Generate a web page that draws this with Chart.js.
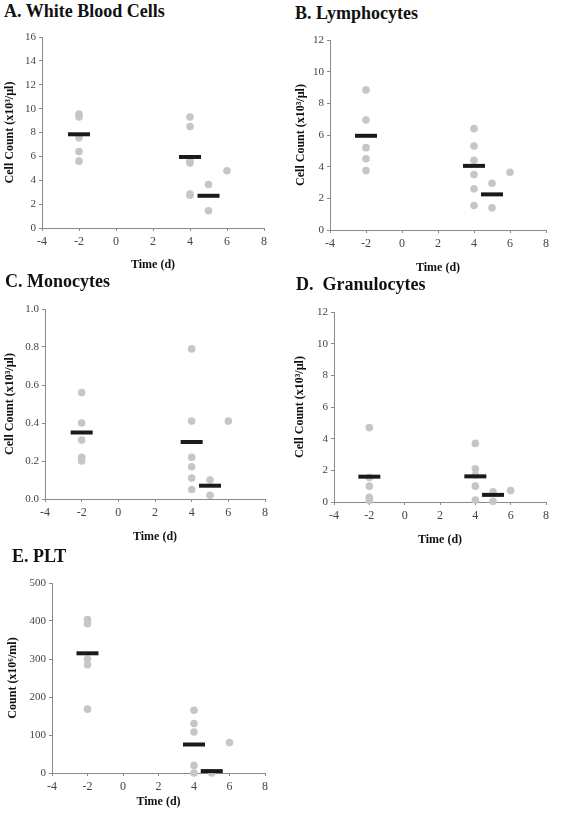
<!DOCTYPE html>
<html>
<head>
<meta charset="utf-8">
<script src="https://cdn.jsdelivr.net/npm/chart.js@4/dist/chart.umd.min.js"></script>
<style>
  html, body { margin: 0; padding: 0; background: #fff; }
  body { position: relative; width: 561px; height: 820px; overflow: hidden; }
  .title {
    position: absolute;
    font-family: 'Liberation Serif', serif;
    font-weight: bold;
    font-size: 18px;
    line-height: 18px;
    color: #111;
    white-space: pre;
    z-index: 2;
  }
  canvas { position: absolute; }
</style>
</head>
<body>
<div class="title" style="left:4px;top:2px">A. White Blood Cells</div>
<div class="title" style="left:295px;top:4px">B. Lymphocytes</div>
<div class="title" style="left:5px;top:272px">C. Monocytes</div>
<div class="title" style="left:296px;top:275px">D.  Granulocytes</div>
<div class="title" style="left:12px;top:547px">E. PLT</div>

<canvas id="wbc"></canvas>
<canvas id="lym"></canvas>
<canvas id="mono"></canvas>
<canvas id="gran"></canvas>
<canvas id="plt"></canvas>

<script>
// Data (time in days, values per animal; means drawn as bars)
const wbcDays = [-2, -2, -2, -2, -2, 4, 4, 4, 4, 4, 4, 5, 5, 6];
const wbcValues = [9.55, 9.3, 7.55, 6.4, 5.6, 9.3, 8.5, 5.6, 5.45, 2.85, 2.75, 3.65, 1.45, 4.8];
const wbcMeanDays = [-2, 4, 5];
const wbcMeans = [7.85, 5.95, 2.7];

const lymDays = [-2, -2, -2, -2, -2, 4, 4, 4, 4, 4, 4, 5, 5, 6];
const lymValues = [8.85, 6.95, 5.2, 4.5, 3.75, 6.4, 5.3, 4.4, 3.5, 2.6, 1.55, 2.95, 1.4, 3.65];
const lymMeanDays = [-2, 4, 5];
const lymMeans = [5.95, 4.05, 2.25];

const monoDays = [-2, -2, -2, -2, -2, 4, 4, 4, 4, 4, 4, 5, 5, 6];
const monoValues = [0.56, 0.4, 0.31, 0.22, 0.2, 0.79, 0.41, 0.22, 0.17, 0.11, 0.05, 0.1, 0.02, 0.41];
const monoMeanDays = [-2, 4, 5];
const monoMeans = [0.35, 0.3, 0.07];

const granDays = [-2, -2, -2, -2, -2, 4, 4, 4, 4, 4, 5, 5, 6];
const granValues = [4.7, 1.55, 1.0, 0.3, 0.1, 3.7, 2.1, 1.7, 1.0, 0.12, 0.65, 0.05, 0.72];
const granMeanDays = [-2, 4, 5];
const granMeans = [1.6, 1.62, 0.45];

const pltDays = [-2, -2, -2, -2, -2, 4, 4, 4, 4, 4, 5, 6];
const pltValues = [404, 393, 300, 285, 168, 165, 130, 108, 20, 0, 0, 80];
const pltMeanDays = [-2, 4, 5];
const pltMeans = [315, 75, 5];

const timeMin = -4, timeMax = 8, timeStep = 2;

// Styles
const SERIF = "'Liberation Serif', serif";
const AXIS_GRAY = "#8a8a8a";
const DOT_GRAY = "#c6c6c6";
const BAR_BLACK = "#1a1a1a";
const TITLE_SIZE = 12;
const LH = TITLE_SIZE * 1.2;

Chart.defaults.font.family = SERIF;

const toPoints = (xs, ys) => xs.map((x, i) => ({ x: x, y: ys[i] }));

const makePanel = (id, cfg) => {
  const canvas = document.getElementById(id);
  const b = cfg.box;
  const cTop = b.top - 15;
  const cH = b.xTitleY + 10 - cTop;
  canvas.width = b.cW;
  canvas.height = cH;
  canvas.style.left = b.cLeft + "px";
  canvas.style.top = cTop + "px";

  const padLeft = b.yTitleX - LH / 2 - b.cLeft;
  const yWidth = b.left - b.cLeft - padLeft;
  const padRight = b.cLeft + b.cW - b.right;
  const xHeight = b.xTitleY + LH / 2 - b.bottom;
  const padBottom = cTop + cH - b.bottom - xHeight;

  new Chart(canvas.getContext("2d"), {
    type: "scatter",
    data: {
      datasets: [
        {
          label: "Mean",
          data: toPoints(cfg.meanDays, cfg.means),
          pointStyle: "line",
          pointRadius: 11,
          pointBorderWidth: 4,
          borderColor: BAR_BLACK,
          backgroundColor: BAR_BLACK,
          clip: false,
        },
        {
          label: "Individual",
          data: toPoints(cfg.days, cfg.values),
          pointRadius: 3.8,
          pointBorderWidth: 0,
          backgroundColor: DOT_GRAY,
          borderColor: DOT_GRAY,
          clip: false,
        },
      ],
    },
    options: {
      responsive: false,
      animation: false,
      events: [],
      layout: { padding: { left: padLeft, top: b.top - cTop, right: padRight, bottom: padBottom } },
      plugins: { legend: { display: false }, tooltip: { enabled: false } },
      scales: {
        x: {
          type: "linear",
          min: timeMin,
          max: timeMax,
          afterFit: (s) => { s.height = xHeight; },
          ticks: {
            stepSize: timeStep,
            color: "#444",
            padding: 4,
            maxRotation: 0,
            font: { family: SERIF, size: 12 },
          },
          grid: { drawOnChartArea: false, drawTicks: true, tickLength: 3, color: AXIS_GRAY },
          border: { color: AXIS_GRAY, width: 1 },
          title: {
            display: true,
            text: "Time (d)",
            color: "#111",
            padding: 0,
            font: { family: SERIF, size: TITLE_SIZE, weight: "bold" },
          },
        },
        y: {
          type: "linear",
          min: 0,
          max: cfg.yMax,
          afterFit: (s) => { s.width = yWidth; },
          ticks: {
            stepSize: cfg.yStep,
            color: "#444",
            padding: 3,
            font: { family: SERIF, size: 11 },
            callback: cfg.fmt || ((v) => v),
          },
          grid: { drawOnChartArea: false, drawTicks: true, tickLength: 3, color: AXIS_GRAY },
          border: { color: AXIS_GRAY, width: 1 },
          title: {
            display: true,
            text: cfg.yTitle,
            color: "#111",
            padding: 0,
            font: { family: SERIF, size: TITLE_SIZE, weight: "bold" },
          },
        },
      },
    },
  });
};

const cellTitle = "Cell Count (x10\u00B3/\u00B5l)";

makePanel("wbc", {
  days: wbcDays, values: wbcValues, meanDays: wbcMeanDays, means: wbcMeans,
  yMax: 16, yStep: 2, yTitle: cellTitle,
  box: { cLeft: 0, cW: 280, left: 42, top: 37, right: 264, bottom: 228, yTitleX: 10, xTitleY: 265 },
});
makePanel("lym", {
  days: lymDays, values: lymValues, meanDays: lymMeanDays, means: lymMeans,
  yMax: 12, yStep: 2, yTitle: cellTitle,
  box: { cLeft: 280, cW: 281, left: 330, top: 40, right: 552, bottom: 230, yTitleX: 301, xTitleY: 268 },
});
makePanel("mono", {
  days: monoDays, values: monoValues, meanDays: monoMeanDays, means: monoMeans,
  yMax: 1, yStep: 0.2, yTitle: cellTitle, fmt: (v) => v.toFixed(1),
  box: { cLeft: 0, cW: 280, left: 45, top: 309, right: 267, bottom: 499, yTitleX: 10, xTitleY: 537 },
});
makePanel("gran", {
  days: granDays, values: granValues, meanDays: granMeanDays, means: granMeans,
  yMax: 12, yStep: 2, yTitle: cellTitle,
  box: { cLeft: 280, cW: 281, left: 334, top: 312, right: 556, bottom: 502, yTitleX: 300, xTitleY: 540 },
});
makePanel("plt", {
  days: pltDays, values: pltValues, meanDays: pltMeanDays, means: pltMeans,
  yMax: 500, yStep: 100, yTitle: "Count (x10\u2076/ml)",
  box: { cLeft: 0, cW: 280, left: 52, top: 583, right: 273, bottom: 773, yTitleX: 13, xTitleY: 802 },
});
</script>
</body>
</html>
